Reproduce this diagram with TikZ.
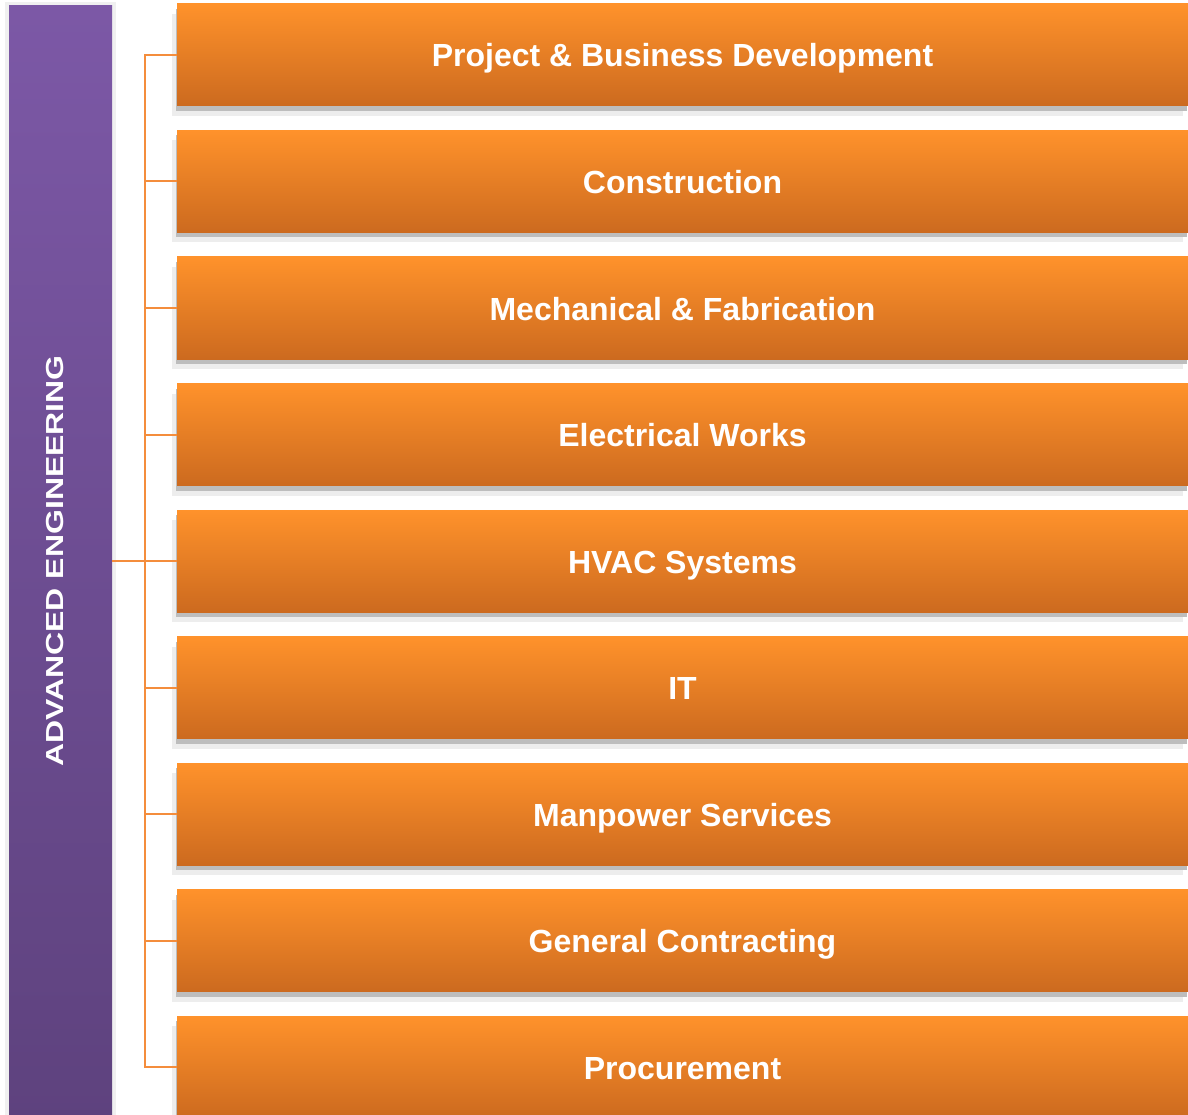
\documentclass[tikz,border=0pt]{standalone}
\usepackage{fontspec}
\setmainfont{Liberation Sans}
\usetikzlibrary{positioning}
\definecolor{orTop}{RGB}{255,146,43}
\definecolor{orBot}{RGB}{204,106,31}
\definecolor{puTop}{RGB}{124,88,166}
\definecolor{puBot}{RGB}{94,66,126}
\definecolor{link}{RGB}{244,141,60}
\tikzstyle{unit}=[minimum width=1011pt, minimum height=102pt, inner sep=0pt, outer sep=0pt,
  top color=orTop, bottom color=orBot, text=white, text height=24pt, text depth=0pt,
  font=\bfseries\fontsize{32}{38}\selectfont,
  preaction={fill=black!7, transform canvas={xshift=-5pt, yshift=-10pt}},
  preaction={fill=black!26, transform canvas={xshift=-1pt, yshift=-5pt}}]
\tikzstyle{bar}=[minimum width=103pt, minimum height=1115pt, inner sep=0pt, outer sep=0pt,
  top color=puTop, bottom color=puBot, preaction={draw=black!6, line width=8pt}]
\tikzstyle{title}=[rotate=90, yscale=0.77, text=white, inner sep=0pt,
  font=\bfseries\fontsize{32}{38}\selectfont]
\tikzstyle{wire}=[draw=link, line width=2pt]

\begin{document}
\begin{tikzpicture}
  \useasboundingbox (0,0) rectangle (1188pt,-1115pt);
  \node[bar, anchor=north] (bar) at (60.5pt,-6pt) {};
  \node[unit] (pbd) at (682.5pt,-55pt) {Project \& Business Development};
  \node[unit] (cons) [below=24.5pt of pbd] {Construction};
  \node[unit] (mech) [below=24.5pt of cons] {Mechanical \& Fabrication};
  \node[unit] (elec) [below=24.5pt of mech] {Electrical Works};
  \node[unit] (hvac) [below=24.5pt of elec] {HVAC Systems};
  \node[unit] (it) [below=24.5pt of hvac] {IT};
  \node[unit] (man) [below=24.5pt of it] {Manpower Services};
  \node[unit] (gen) [below=24.5pt of man] {General Contracting};
  \node[unit] (proc) [below=24.5pt of gen] {Procurement};
  \path (bar.center |- hvac) ++(-5.5pt,0) node[title] (head) {ADVANCED ENGINEERING};
  % tree lines
  \draw[wire] (pbd.west) -- ++(-32pt,0) |- (proc.west);
  \draw[wire] (cons.west) -- ++(-32pt,0);
  \draw[wire] (mech.west) -- ++(-32pt,0);
  \draw[wire] (elec.west) -- ++(-32pt,0);
  \draw[wire] (it.west) -- ++(-32pt,0);
  \draw[wire] (man.west) -- ++(-32pt,0);
  \draw[wire] (gen.west) -- ++(-32pt,0);
  \draw[wire] (bar.east |- hvac.west) -- (hvac.west);
\end{tikzpicture}
\end{document}
